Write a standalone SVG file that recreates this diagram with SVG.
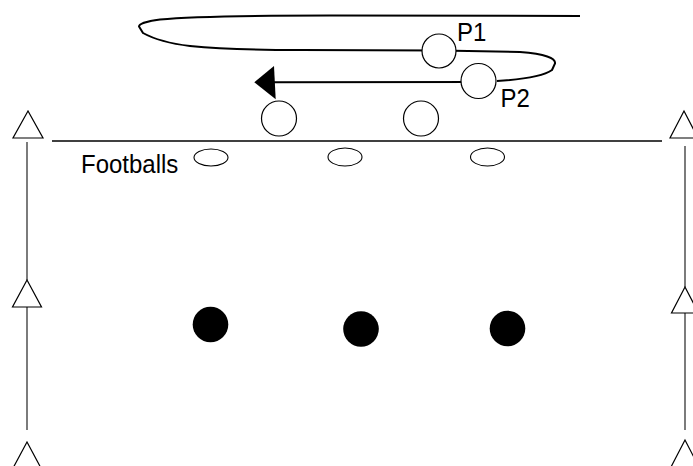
<svg xmlns="http://www.w3.org/2000/svg" width="693" height="466" viewBox="0 0 693 466">
<style>
.cone{fill:#fff;stroke:#000;stroke-width:1.2}
.side{stroke:#444;stroke-width:1.4;fill:none}
.player{fill:#fff;stroke:#000;stroke-width:1.2}
.ball{fill:#fff;stroke:#000;stroke-width:1.1}
.dot{fill:#000}
.lbl{font-family:"Liberation Sans",Arial,sans-serif;font-size:24px;fill:#000}
.run{fill:none;stroke:#000;stroke-width:2}
</style>
<rect width="693" height="466" fill="#fff"/>
<g id="field">
<line x1="52" y1="141" x2="662" y2="141" stroke="#000" stroke-width="1.4"/>
</g>
<g id="connectors">
<line class="side" x1="27" y1="142" x2="27" y2="280"/>
<line class="side" x1="27" y1="307" x2="27" y2="430"/>
<line class="side" x1="685" y1="146" x2="685" y2="287"/>
<line class="side" x1="685" y1="313" x2="685" y2="430"/>
<path class="run" d="M580 16 L330 15.5 C250 15.5 185 17 160 19.5 C148 21 139 24 139 26.5 L143 33 C152 38 165 43 190 46 C220 49 260 50 300 50 L440 50.5 L520 52 C545 54 556 58 555 63.5 L552 70 C545 75 530 79 497 81"/>
<line class="run" x1="478" y1="82" x2="272" y2="82.3"/>
<polygon points="254.3,82.3 274,66 275.7,99.3" fill="#000"/>
</g>
<g id="cone-left-1"><polygon class="cone" points="28,111 13,138 43,138"/></g>
<g id="cone-left-2"><polygon class="cone" points="27,280 12.5,307 41.5,307"/></g>
<g id="cone-left-3"><polygon class="cone" points="27,442 12,470 42,470"/></g>
<g id="cone-right-1"><polygon class="cone" points="684,111 670,138 698,138"/></g>
<g id="cone-right-2"><polygon class="cone" points="685,287 671.5,313 698.5,313"/></g>
<g id="cone-right-3"><polygon class="cone" points="685,440 671,467 699,467"/></g>
<g id="p1"><circle class="player" cx="439" cy="51" r="17"/><text class="lbl" transform="translate(457,41) scale(1,1.08)">P1</text></g>
<g id="p2"><circle class="player" cx="478.5" cy="81" r="17.5"/><text class="lbl" transform="translate(500.5,107) scale(1,1.08)">P2</text></g>
<g id="player-3"><circle class="player" cx="279" cy="118.5" r="17.5"/></g>
<g id="player-4"><circle class="player" cx="421" cy="118.5" r="17.5"/></g>
<g id="footballs-label"><text class="lbl" transform="translate(81,173) scale(1,1.08)">Footballs</text></g>
<g id="ball-1"><ellipse class="ball" cx="211" cy="157.5" rx="17" ry="8.5"/></g>
<g id="ball-2"><ellipse class="ball" cx="345" cy="157" rx="17" ry="9"/></g>
<g id="ball-3"><ellipse class="ball" cx="487.5" cy="157" rx="17" ry="9"/></g>
<g id="defender-1"><circle class="dot" cx="210.5" cy="324.5" r="17.8"/></g>
<g id="defender-2"><circle class="dot" cx="361" cy="329" r="17.8"/></g>
<g id="defender-3"><circle class="dot" cx="507.5" cy="328.5" r="17.8"/></g>
</svg>
